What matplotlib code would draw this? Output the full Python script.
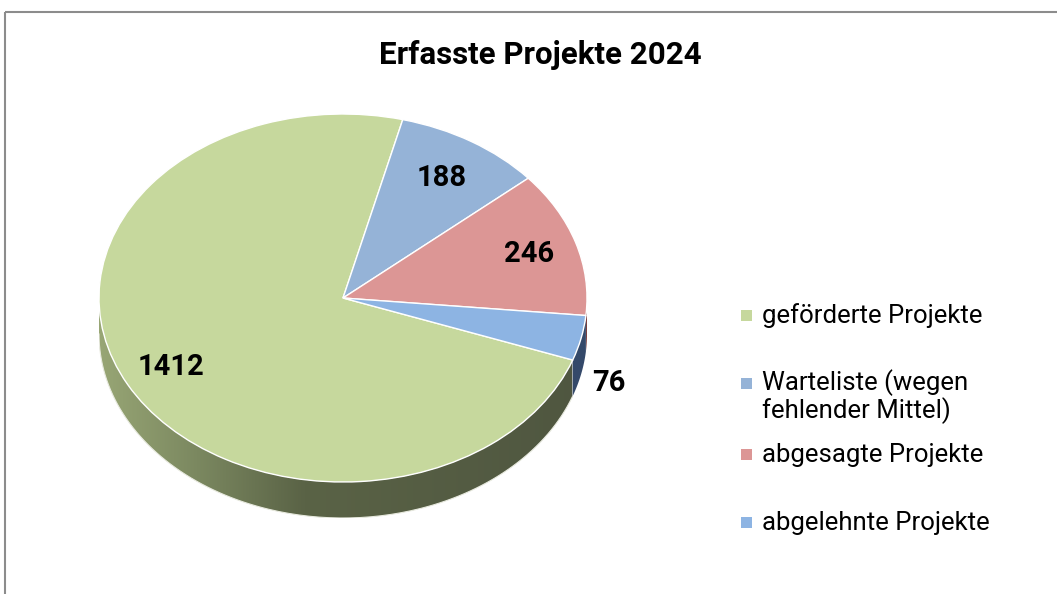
import numpy as np
import matplotlib
matplotlib.use("Agg")
import matplotlib.pyplot as plt
from matplotlib.patches import Rectangle, Polygon
from matplotlib.colors import LinearSegmentedColormap

title = "Erfasste Projekte 2024"
categories = ["geförderte Projekte", "Warteliste (wegen\nfehlender Mittel)",
              "abgesagte Projekte", "abgelehnte Projekte"]
values = [1412, 188, 246, 76]
colors = ["#c6d89d", "#95b3d7", "#dc9695", "#8db4e3"]
wall_colors = [None, "#3d4d68", "#7a3f3e", "#34496a"]

W, H = 1057, 594
fig = plt.figure(figsize=(W / 100, H / 100), dpi=100)
plt.rcParams['font.family'] = ['Roboto', 'DejaVu Sans']

# pixel-space overlay axes
bg = fig.add_axes([0, 0, 1, 1])
bg.set_xlim(0, W)
bg.set_ylim(H, 0)
bg.axis("off")
bg.add_patch(Rectangle((5, 12), W + 20, H + 20, fill=False, ec="#8c8c8c", lw=1.5))
bg.text(540, 55, title, ha="center", va="center", fontsize=22.5, fontweight="bold")

# pie axes (ellipse)
cx, cy, rx, ry = 343, 298, 244, 184
dpx = 36
depth = dpx / ry
ax = fig.add_axes([(cx - rx) / W, 1 - (cy + ry + dpx) / H, 2.12 * rx / W, (2 * ry + dpx) / H])

wedges, _ = ax.pie(values, colors=colors, startangle=-19.7, counterclock=False,
                   wedgeprops=dict(edgecolor="white", linewidth=1.0), radius=1)
ax.set_aspect("auto")
ax.axis("off")
for w in wedges:
    w.set_zorder(3)

# side wall of the green slice with gradient
t = np.linspace(np.pi, np.radians(360 - 20), 200)
top = np.column_stack([np.cos(t), np.sin(t)])
bot = np.column_stack([np.cos(t[::-1]), np.sin(t[::-1]) - depth])
wall = Polygon(np.vstack([top, bot]), closed=True, fc="none", ec="none", zorder=1)
ax.add_patch(wall)
cmap = LinearSegmentedColormap.from_list("wall", [(0, "#98a675"), (0.2, "#7b8860"),
                                                 (0.42, "#5a6346"), (1, "#4f5640")])
grad = np.linspace(0, 1, 256).reshape(1, -1)
im = ax.imshow(grad, cmap=cmap, extent=[-1, 1, -1 - depth, 0.05], aspect="auto",
               zorder=1, interpolation="bilinear")
im.set_clip_path(wall)
ax.plot(np.cos(t), np.sin(t) - depth, color="#e8eadf", lw=0.8, zorder=2)


def norm(a):
    a = a % 360
    return a - 360 if a > 180 else a


# small walls for the right slices
for w, wc in zip(wedges, wall_colors):
    if wc is None:
        continue
    a1, a2 = sorted([norm(w.theta1), norm(w.theta2)])
    a1, a2 = max(a1, -90), min(a2, 0)
    if a2 <= a1:
        continue
    tt = np.radians(np.linspace(a1, a2, 30))
    pts = np.vstack([np.column_stack([np.cos(tt), np.sin(tt)]),
                     np.column_stack([np.cos(tt[::-1]), np.sin(tt[::-1]) - depth])])
    ax.add_patch(Polygon(pts, closed=True, fc=wc, ec="none", zorder=2))
ax.set_xlim(-1, 1.12)
ax.set_ylim(-1 - depth, 1)

# labels
label_r = [0.80, 0.77, 0.80, None]
for w, v, r in zip(wedges, values, label_r):
    mid = np.radians((w.theta1 + w.theta2) / 2)
    if r is not None:
        x, y = r * np.cos(mid), r * np.sin(mid)
    else:
        x, y = 1.09, -0.46
    ax.text(x, y, str(v), ha="center", va="center", fontsize=21, fontweight="bold", zorder=5)

# legend (manual)
leg_y = [316, 397, 455, 523]
for lab, col, y in zip(categories, colors, leg_y):
    first_y = y if "\n" not in lab else y - 13
    bg.add_patch(Rectangle((741, first_y - 6), 11, 11, fc=col, ec="none"))
    bg.text(762, y, lab, ha="left", va="center", fontsize=18.5, linespacing=1.05)

fig.savefig("out.png", dpi=100)
